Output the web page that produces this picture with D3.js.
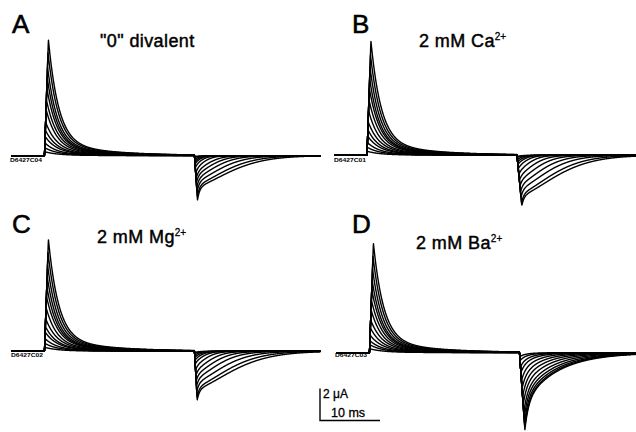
<!DOCTYPE html>
<html>
<head>
<meta charset="utf-8">
<script src="https://cdn.jsdelivr.net/npm/d3@7"></script>
<style>
	body { margin: 0; background: #fff; }
	svg { display: block; font-family: "Liberation Sans", Arial, sans-serif; }
</style>
</head>
<body>
<div id="chart"></div>
<script>

// panel text
const panelLabels = ["A", "B", "C", "D"];
const panelTitles = ['"0" divalent', "2 mM Ca", "2 mM Mg", "2 mM Ba"];
const titleCharges = ["", "2+", "2+", "2+"];
const fileTags = ["D6427C04", "D6427C01", "D6427C02", "D6427C03"];

// pulse protocol (ms)
const pulseOn = 0;
const pulseOff = 25;
const timeRange = [-5.5, 46];

// ON gating current peaks (uA), one per trace, small -> large
const onPeakA = [0.25, 0.5, 0.8, 1.2, 1.6, 2.1, 2.9, 3.5, 4.25, 4.9, 5.55, 6.45, 7.25];
const onPeakB = [0.25, 0.5, 0.8, 1.2, 1.6, 2.1, 2.8, 3.5, 4.2, 4.8, 5.5, 6.3, 7.15];
const onPeakC = [0.25, 0.5, 0.8, 1.2, 1.55, 2.05, 2.75, 3.45, 4.05, 4.7, 5.4, 6.2, 7.0];
const onPeakD = [0.25, 0.5, 0.75, 1.1, 1.55, 2.05, 2.7, 3.3, 3.95, 4.55, 5.25, 6.05, 6.85];
// ON decay time constants (ms)
const onTau = [2.2, 2.1, 2.0, 2.0, 1.9, 1.9, 1.8, 1.8, 1.75, 1.7, 1.7, 1.7, 1.7];

// OFF tails: fast spike (uA), slow hump (uA), hump decay (ms)
const offSpikeA = [0.03, 0.06, 0.12, 0.19, 0.25, 0.31, 0.44, 0.56, 0.62, 0.69, 0.75, 0.81, 0.88];
const offHumpA = [0.03, 0.06, 0.12, 0.19, 0.28, 0.44, 0.66, 0.88, 1.09, 1.31, 1.53, 1.75, 1.88];
const offTauA = [1.0, 1.1, 1.2, 1.3, 1.4, 1.6, 2.0, 2.8, 3.5, 4.3, 5.3, 6.4, 7.4];

const offSpikeB = [0.03, 0.06, 0.1, 0.15, 0.2, 0.26, 0.34, 0.42, 0.5, 0.57, 0.63, 0.68, 0.7];
const offHumpB = [0.04, 0.08, 0.16, 0.26, 0.38, 0.58, 0.86, 1.15, 1.43, 1.72, 2.0, 2.3, 2.45];
const offTauB = [1.0, 1.1, 1.2, 1.4, 1.6, 1.9, 2.4, 3.1, 3.9, 4.8, 5.8, 6.9, 7.8];

const offSpikeC = [0.03, 0.06, 0.1, 0.15, 0.2, 0.26, 0.36, 0.45, 0.52, 0.6, 0.66, 0.72, 0.75];
const offHumpC = [0.04, 0.07, 0.15, 0.24, 0.36, 0.54, 0.8, 1.07, 1.34, 1.6, 1.87, 2.15, 2.3];
const offTauC = [1.0, 1.1, 1.2, 1.4, 1.6, 1.9, 2.4, 3.1, 3.9, 4.8, 5.9, 7.0, 8.0];

const offSpikeD = [0.09, 0.18, 0.32, 0.45, 0.63, 0.81, 0.99, 1.17, 1.35, 1.48, 1.6, 1.69, 1.73];
const offHumpD = [0.16, 0.32, 0.56, 0.8, 1.12, 1.44, 1.76, 2.08, 2.4, 2.64, 2.84, 3.0, 3.08];
const offTauD = [1.5, 1.8, 2.1, 2.4, 2.8, 3.2, 3.6, 4.0, 4.4, 4.8, 5.1, 5.3, 5.5];

// tail kinetics per panel
const onRise = 0.65;
const tailRise = [0.5, 0.8, 0.45, 0.9];
const spikeTau = [0.4, 0.4, 0.4, 0.62];
const humpPower = [1.5, 1.5, 1.5, 1.0];

// calibration
const scaleBarMs = 10;
const scaleBarUA = 2;


class TracePanel {

	constructor(_config, _data) {
		this.config = {
			svg: _config.svg,
			onsetX: _config.onsetX,
			baseY: _config.baseY,
			pxPerMs: 6,
			pxPerUA: 16,
			labelPos: _config.labelPos,
			titlePos: _config.titlePos,
			tagPos: _config.tagPos
		}
		this.data = _data;
		this.initVis();
	}

	initVis() {
		let vis = this;
		let c = vis.config;

		vis.xScale = d3.scaleLinear()
			.domain(timeRange)
			.range([c.onsetX + timeRange[0] * c.pxPerMs, c.onsetX + timeRange[1] * c.pxPerMs]);

		vis.yScale = d3.scaleLinear()
			.domain([-6, 8])
			.range([c.baseY + 6 * c.pxPerUA, c.baseY - 8 * c.pxPerUA]);

		vis.g = c.svg.append('g');

		// panel letter
		vis.g.append('text')
			.attr('x', c.labelPos[0])
			.attr('y', c.labelPos[1])
			.attr('stroke', '#000')
			.attr('stroke-width', 0.6)
			.style('font-size', '26px')
			.text(vis.data.label);

		// condition title
		let title = vis.g.append('text')
			.attr('x', c.titlePos[0])
			.attr('y', c.titlePos[1])
			.attr('stroke', '#000')
			.attr('stroke-width', 0.45)
			.style('font-size', '18px')
			.style('letter-spacing', '0.4px')
			.text(vis.data.title);
		if (vis.data.charge) {
			title.append('tspan')
				.attr('dy', -7)
				.attr('stroke-width', 0.3)
				.style('font-size', '10px')
				.style('letter-spacing', '0px')
				.text(vis.data.charge);
		}

		// file tag under baseline
		vis.g.append('text')
			.attr('x', c.tagPos[0])
			.attr('y', c.tagPos[1])
			.attr('textLength', 32)
			.attr('lengthAdjust', 'spacingAndGlyphs')
			.style('font-size', '6px')
			.style('font-weight', 'bold')
			.text(vis.data.tag);

		vis.updateVis();
	}

	current(t, k) {
		let vis = this;
		let d = vis.data;
		if (t < pulseOn) return 0;
		if (t < pulseOff) {
			const a = d.onPeak[k];
			const tr = onRise * a / d3.max(d.onPeak);
			const u = t - pulseOn;
			if (u < tr) return a * u / tr;
			const v = u - tr;
			return a * (0.88 * Math.exp(-v / onTau[k]) + 0.12 * Math.exp(-v / (5 * onTau[k])));
		}
		const s = d.offSpike[k], h = d.offHump[k];
		const totMax = d3.max(d.offSpike.map((v, j) => v + d.offHump[j]));
		const rr = d.rise * (s + h) / totMax;
		const u = t - pulseOff;
		if (u < rr) return -(s + h) * u / rr;
		const v = u - rr;
		return -(s * Math.exp(-v / d.spikeTau) + h * Math.exp(-Math.pow(v / d.offTau[k], d.power)));
	}

	updateVis() {
		let vis = this;

		const times = d3.range(timeRange[0], timeRange[1] + 0.001, 0.04);
		const traces = vis.data.onPeak.map((_, k) => times.map(t => [t, vis.current(t, k)]));

		const line = d3.line()
			.x(d => vis.xScale(d[0]))
			.y(d => vis.yScale(d[1]));

		vis.g.selectAll('.trace')
			.data(traces)
			.join('path')
			.attr('class', 'trace')
			.attr('fill', 'none')
			.attr('stroke', '#000')
			.attr('stroke-width', 1.4)
			.attr('stroke-linejoin', 'round')
			.attr('d', line);
	}
}


const width = 636, height = 432;
const svg = d3.select('#chart').append('svg')
	.attr('width', width)
	.attr('height', height);

const onPeaks = [onPeakA, onPeakB, onPeakC, onPeakD];
const offSpikes = [offSpikeA, offSpikeB, offSpikeC, offSpikeD];
const offHumps = [offHumpA, offHumpB, offHumpC, offHumpD];
const offTaus = [offTauA, offTauB, offTauC, offTauD];

// layout of the four panels
const layout = [
	{ onsetX: 44.5, baseY: 155.7, labelPos: [12, 33], titlePos: [100, 47], tagPos: [10, 162] },
	{ onsetX: 367, baseY: 155.3, labelPos: [352, 33], titlePos: [419, 47], tagPos: [334, 162] },
	{ onsetX: 44.5, baseY: 351.3, labelPos: [12, 233], titlePos: [97, 243], tagPos: [11, 357] },
	{ onsetX: 369.5, baseY: 352.7, labelPos: [352, 233], titlePos: [416, 249], tagPos: [335, 357] }
];

const panels = layout.map((l, i) => new TracePanel(
	Object.assign({ svg: svg }, l),
	{
		label: panelLabels[i],
		title: panelTitles[i],
		charge: titleCharges[i],
		tag: fileTags[i],
		onPeak: onPeaks[i],
		offSpike: offSpikes[i],
		offHump: offHumps[i],
		offTau: offTaus[i],
		rise: tailRise[i],
		spikeTau: spikeTau[i],
		power: humpPower[i]
	}
));

// calibration bar, sized with panel D's scales
const pD = panels[3];
const barX = 320, barY = 420.5;
const barW = pD.xScale(scaleBarMs) - pD.xScale(0);
const barH = pD.yScale(0) - pD.yScale(scaleBarUA);

svg.append('path')
	.attr('fill', 'none')
	.attr('stroke', '#000')
	.attr('stroke-width', 1.4)
	.attr('d', `M${barX},${barY - barH}V${barY}H${barX + barW}`);

svg.append('text')
	.attr('x', barX + 3)
	.attr('y', barY - 23)
	.attr('stroke', '#000')
	.attr('stroke-width', 0.3)
	.style('font-size', '12px')
	.text(scaleBarUA + ' \u03bcA');

svg.append('text')
	.attr('x', barX + 11)
	.attr('y', barY - 4)
	.attr('stroke', '#000')
	.attr('stroke-width', 0.3)
	.style('font-size', '12.5px')
	.text(scaleBarMs + ' ms');

</script>
</body>
</html>
